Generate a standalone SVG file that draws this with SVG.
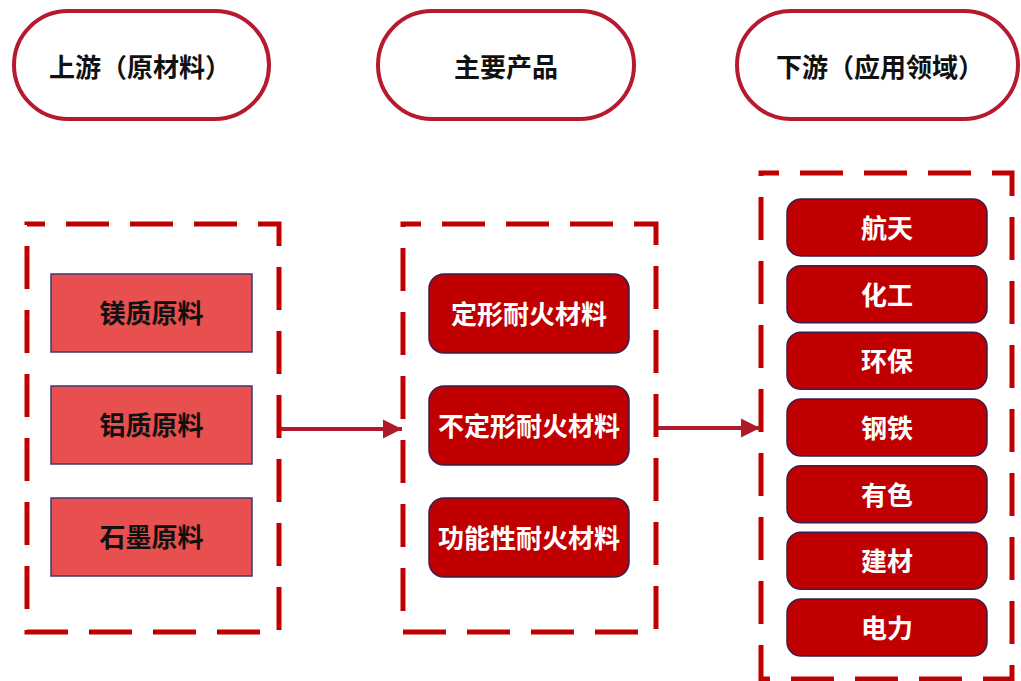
<svg xmlns="http://www.w3.org/2000/svg" width="1021" height="681" viewBox="0 0 1021 681">
  <defs>
    <marker id="ah" viewBox="0 0 10 10" refX="10" refY="5" markerWidth="19" markerHeight="20" markerUnits="userSpaceOnUse" orient="auto">
      <path d="M0,0 L10,5 L0,10 z" fill="#b11a2b"/>
    </marker>
    <style>
      text { font-family: "Liberation Sans", "Noto Sans CJK SC", sans-serif; font-weight: bold; font-size: 26px; text-anchor: middle; dominant-baseline: central; }
      .pill { fill: #ffffff; stroke: #b51a2e; stroke-width: 4; }
      .dash { fill: none; stroke: #c00000; stroke-width: 5; stroke-dasharray: 43 21; stroke-dashoffset: 25; }
      .raw { fill: #e84f4f; stroke: #3b3a6e; stroke-width: 1.5; }
      .prod { fill: #c00000; stroke: #3a1d4a; stroke-width: 1.5; }
      .dark { fill: #111111; }
      .light { fill: #ffffff; }
      .conn { stroke: #b11a2b; stroke-width: 4; fill: none; }
    </style>
  </defs>

  <g id="header-upstream">
    <rect class="pill" x="14" y="11" width="255" height="108" rx="54"/>
    <text class="dark" x="140" y="68">上游（原材料）</text>
  </g>
  <g id="header-products">
    <rect class="pill" x="378" y="11" width="256" height="108" rx="54"/>
    <text class="dark" x="506" y="68">主要产品</text>
  </g>
  <g id="header-downstream">
    <rect class="pill" x="737" y="11" width="281" height="108" rx="54"/>
    <text class="dark" x="880" y="68">下游（应用领域）</text>
  </g>

  <g id="group-upstream">
    <rect class="dash" x="27" y="224" width="252" height="408"/>
  </g>
  <g id="group-products">
    <rect class="dash" x="403" y="224" width="253" height="408"/>
  </g>
  <g id="group-downstream">
    <rect class="dash" x="761" y="173" width="251" height="506"/>
  </g>

  <g id="raw-mg">
    <rect class="raw" x="51" y="274" width="201" height="78"/>
    <text class="dark" x="151.5" y="314">镁质原料</text>
  </g>
  <g id="raw-al">
    <rect class="raw" x="51" y="386" width="201" height="78"/>
    <text class="dark" x="151.5" y="426">铝质原料</text>
  </g>
  <g id="raw-graphite">
    <rect class="raw" x="51" y="498" width="201" height="78"/>
    <text class="dark" x="151.5" y="538">石墨原料</text>
  </g>

  <g id="prod-shaped">
    <rect class="prod" x="429" y="274" width="200" height="79" rx="15"/>
    <text class="light" x="529" y="315">定形耐火材料</text>
  </g>
  <g id="prod-unshaped">
    <rect class="prod" x="429" y="386" width="200" height="79" rx="15"/>
    <text class="light" x="529" y="427">不定形耐火材料</text>
  </g>
  <g id="prod-functional">
    <rect class="prod" x="429" y="498" width="200" height="79" rx="15"/>
    <text class="light" x="529" y="539">功能性耐火材料</text>
  </g>

  <g id="app-aerospace">
    <rect class="prod" x="787" y="199" width="200" height="57" rx="14"/>
    <text class="light" x="887" y="229">航天</text>
  </g>
  <g id="app-chemical">
    <rect class="prod" x="787" y="265.7" width="200" height="57" rx="14"/>
    <text class="light" x="887" y="295.7">化工</text>
  </g>
  <g id="app-environment">
    <rect class="prod" x="787" y="332.3" width="200" height="57" rx="14"/>
    <text class="light" x="887" y="362.3">环保</text>
  </g>
  <g id="app-steel">
    <rect class="prod" x="787" y="399" width="200" height="57" rx="14"/>
    <text class="light" x="887" y="429">钢铁</text>
  </g>
  <g id="app-nonferrous">
    <rect class="prod" x="787" y="465.7" width="200" height="57" rx="14"/>
    <text class="light" x="887" y="495.7">有色</text>
  </g>
  <g id="app-building">
    <rect class="prod" x="787" y="532.3" width="200" height="57" rx="14"/>
    <text class="light" x="887" y="562.3">建材</text>
  </g>
  <g id="app-power">
    <rect class="prod" x="787" y="599" width="200" height="57" rx="14"/>
    <text class="light" x="887" y="629">电力</text>
  </g>

  <g id="connectors">
    <line class="conn" x1="281" y1="429" x2="402" y2="429" marker-end="url(#ah)"/>
    <line class="conn" x1="658" y1="428" x2="760" y2="428" marker-end="url(#ah)"/>
  </g>
</svg>
